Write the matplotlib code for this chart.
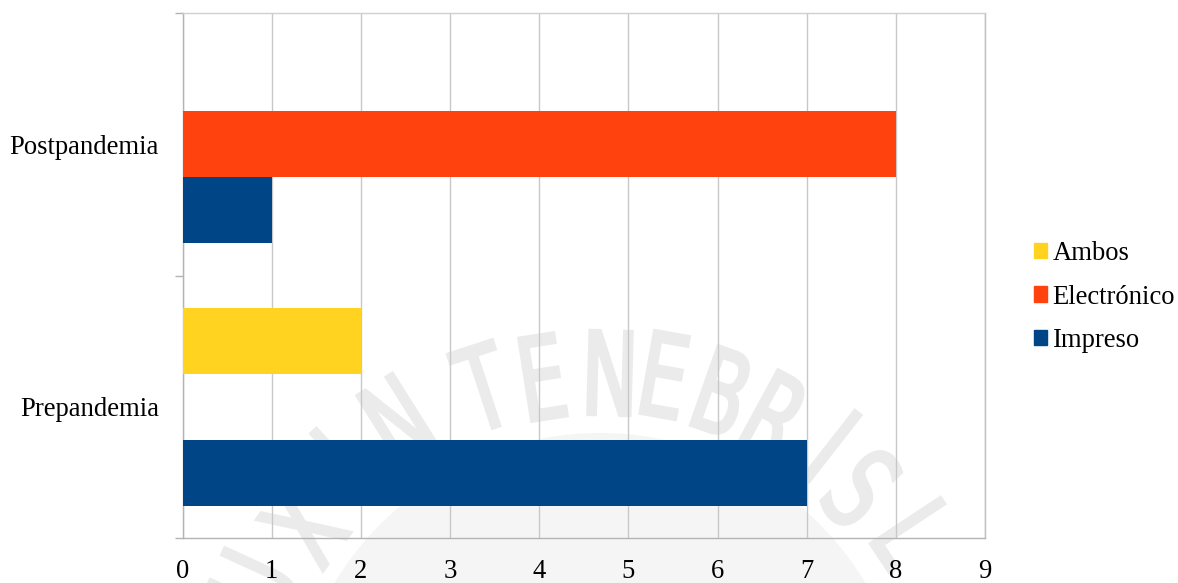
import numpy as np
import matplotlib
matplotlib.use('Agg')
import matplotlib.pyplot as plt
from matplotlib.patches import Patch, PathPatch, Circle
from matplotlib.textpath import TextPath
from matplotlib.font_manager import FontProperties
from matplotlib.transforms import Affine2D, IdentityTransform

# data
categories = ['Prepandemia', 'Postpandemia']
series_names = ['Impreso', 'Electrónico', 'Ambos']
impreso = [7, 1]
electronico = [0, 8]
ambos = [2, 0]
series_values = [impreso, electronico, ambos]
x_ticks = list(range(0, 10))

colors = ['#004586', '#ff420e', '#ffd320']
grid_color = '#c8c8c8'
font = 'Liberation Serif'
fs = 19.2

W, H = 1178, 583
fig = plt.figure(figsize=(W / 100, H / 100), dpi=100)
ax = fig.add_axes([182.5 / W, 1 - 538 / H, (985 - 182.5) / W, (538 - 13) / H])
ax.set_zorder(1)
ax.patch.set_visible(False)

# faint university seal watermark from the source document (pixel coords)
seal_c = (600, 743)
fig.add_artist(Circle((seal_c[0], H - seal_c[1]), 310, transform=IdentityTransform(),
                      facecolor='#f5f5f5', edgecolor='none', zorder=0))
wm_letters = ['U', 'X', 'I', 'N', 'T', 'E', 'N', 'E', 'B', 'R', 'I', 'S', 'L']
wm_pos = [(255, 585), (303, 527), (342, 462), (397, 420), (483, 387), (543, 377),
          (610, 373), (665, 375), (723, 392), (777, 417), (832, 446), (862, 488),
          (915, 535)]
wm_font = FontProperties(family='DejaVu Sans')
for ch, (px, py) in zip(wm_letters, wm_pos):
    tp = TextPath((0, 0), ch, size=115, prop=wm_font)
    bb = tp.get_extents()
    ang = np.degrees(np.arctan2(px - seal_c[0], seal_c[1] - py))
    tr = (Affine2D().translate(-(bb.x0 + bb.x1) / 2, -(bb.y0 + bb.y1) / 2)
          .scale(0.66, 1).rotate_deg(-ang).translate(px, H - py))
    fig.add_artist(PathPatch(tr.transform_path(tp), transform=IdentityTransform(),
                             facecolor='#ebebeb', edgecolor='#ebebeb', linewidth=2.5,
                             zorder=0))

y = np.arange(len(categories))
h = 0.252
offsets = [-h, 0, h]
for vals, name, col, off in zip(series_values, series_names, colors, offsets):
    ax.barh(y + off, vals, height=h, color=col, label=name, zorder=3)

ax.set_xlim(0, 9)
ax.set_ylim(-0.5, 1.5)
ax.set_xticks(x_ticks)
ax.set_xticklabels([str(t) for t in x_ticks], family=font, fontsize=fs)
ax.set_yticks(y)
ax.set_yticklabels(categories, family=font, fontsize=fs)
ax.set_yticks([-0.5, 0.5, 1.5], minor=True)

ax.tick_params(axis='x', length=0, pad=15)
ax.tick_params(axis='y', which='major', length=0, pad=17)
ax.tick_params(axis='y', which='minor', length=5.8, width=1, color='#b3b3b3')

ax.grid(axis='x', color=grid_color, linewidth=1, zorder=1)
ax.set_axisbelow(True)
for side in ['left', 'bottom', 'top', 'right']:
    ax.spines[side].set_color('#b3b3b3')
    ax.spines[side].set_linewidth(1)
ax.spines['top'].set_color('#d0d0d0')
ax.spines['right'].set_color('#c0c0c0')

handles = [Patch(color=colors[2], label=series_names[2]),
           Patch(color=colors[1], label=series_names[1]),
           Patch(color=colors[0], label=series_names[0])]
fig.legend(handles=handles, loc='center left', bbox_to_anchor=(1034 / W, 1 - 297 / H),
           frameon=False, prop={'family': font, 'size': fs},
           handlelength=0.5, handleheight=0.5, handletextpad=0.2,
           labelspacing=0.7, borderpad=0, borderaxespad=0)

fig.savefig('out.png', dpi=100)
